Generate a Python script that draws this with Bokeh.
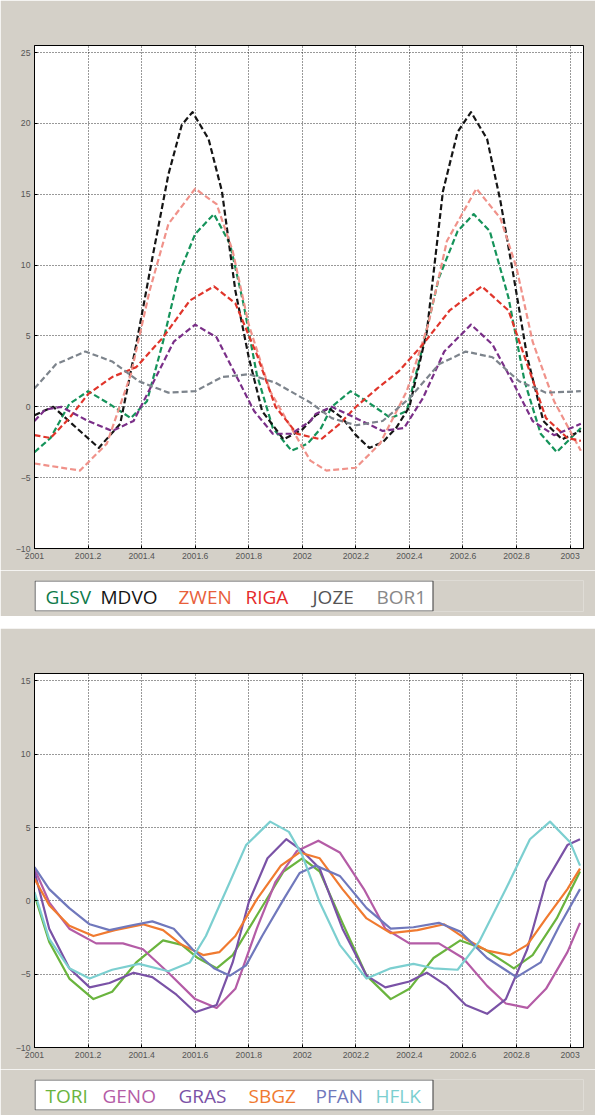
from bokeh.plotting import figure
from bokeh.layouts import column
from bokeh.models import FixedTicker, Range1d
from bokeh.core.properties import value
from bokeh.embed import file_html
from bokeh.resources import INLINE

# ---------------- top panel data (time in years, value) ----------------
top_names = ["GLSV", "MDVO", "ZWEN", "RIGA", "JOZE", "BOR1"]

MDVO_t = [2001.0, 2001.07, 2001.14, 2001.24, 2001.32, 2001.38, 2001.44, 2001.5, 2001.55, 2001.59, 2001.65,
          2001.7, 2001.75, 2001.8, 2001.85, 2001.93, 2002.0, 2002.05, 2002.1, 2002.15, 2002.2, 2002.25,
          2002.3, 2002.35, 2002.4, 2002.465, 2002.525, 2002.58, 2002.63, 2002.69, 2002.74, 2002.79,
          2002.84, 2002.9, 2002.97, 2003.04]
MDVO = [-0.6, 0.0, -1.2, -2.9, -1.2, 4.4, 10.5, 16.4, 19.9, 20.8, 18.9,
        15.2, 8.2, 3.5, -0.3, -2.3, -1.6, -0.6, -0.1, -0.8, -2.0, -2.9,
        -2.5, -1.5, 0.0, 5.3, 15.2, 19.4, 20.8, 18.9, 14.5, 9.1,
        3.5, -1.0, -2.3, -1.7]

ZWEN_t = [2001.0, 2001.17, 2001.27, 2001.36, 2001.43, 2001.5, 2001.6, 2001.68, 2001.74, 2001.8, 2001.88,
          2001.95, 2002.03, 2002.09, 2002.2, 2002.29, 2002.39, 2002.47, 2002.54, 2002.65, 2002.74,
          2002.8, 2002.86, 2002.94, 2003.04]
ZWEN = [-4.0, -4.5, -2.6, 2.3, 8.2, 12.9, 15.4, 14.3, 11.0, 5.8, 1.1,
        -1.2, -3.8, -4.5, -4.3, -2.6, 1.1, 5.8, 11.7, 15.4, 13.3,
        9.8, 4.6, 0.4, -3.1]

GLSV_t = [2001.0, 2001.06, 2001.13, 2001.2, 2001.28, 2001.36, 2001.42, 2001.48, 2001.54, 2001.6, 2001.67,
          2001.73, 2001.78, 2001.83, 2001.89, 2001.96, 2002.02, 2002.07, 2002.11, 2002.18, 2002.24,
          2002.33, 2002.39, 2002.44, 2002.51, 2002.58, 2002.64, 2002.7, 2002.77, 2002.83, 2002.89,
          2002.95, 2003.04]
GLSV = [-3.2, -2.2, 0.2, 1.1, 0.2, -0.8, 0.4, 4.6, 9.4, 12.2, 13.6,
        11.5, 7.3, 2.3, -1.5, -3.1, -2.6, -1.5, 0.0, 1.1, 0.4,
        -0.8, -0.3, 3.5, 9.1, 12.4, 13.6, 12.4, 7.7, 1.8, -1.9,
        -3.2, -1.5]

RIGA_t = [2001.0, 2001.06, 2001.13, 2001.2, 2001.29, 2001.38, 2001.48, 2001.58, 2001.67, 2001.75, 2001.83,
          2001.9, 2001.98, 2002.07, 2002.14, 2002.2, 2002.28, 2002.36, 2002.45, 2002.55, 2002.67,
          2002.77, 2002.84, 2002.91, 2002.99, 2003.04]
RIGA = [-2.0, -2.2, -0.8, 0.9, 2.1, 2.8, 4.9, 7.5, 8.5, 7.3, 3.7,
        0.0, -1.9, -2.3, -1.2, 0.0, 1.3, 2.5, 4.4, 6.8, 8.5,
        6.8, 3.0, -0.8, -2.2, -2.4]

JOZE_t = [2001.0, 2001.04, 2001.1, 2001.2, 2001.29, 2001.37, 2001.44, 2001.52, 2001.6, 2001.68, 2001.75,
          2001.82, 2001.89, 2001.96, 2002.03, 2002.05, 2002.11, 2002.2, 2002.3, 2002.38, 2002.45,
          2002.53, 2002.63, 2002.71, 2002.79, 2002.86, 2002.94, 2003.04]
JOZE = [-1.0, -0.2, 0.0, -1.0, -1.7, -1.0, 1.6, 4.6, 5.8, 4.9, 2.3,
        -0.3, -1.9, -1.9, -1.0, -0.5, 0.0, -0.8, -1.7, -1.5, 0.6,
        3.9, 5.8, 4.4, 1.6, -1.0, -2.0, -1.2]

BOR1_t = [2001.0, 2001.08, 2001.19, 2001.29, 2001.39, 2001.5, 2001.6, 2001.7, 2001.8, 2001.9, 2002.03,
          2002.11, 2002.2, 2002.3, 2002.4, 2002.51, 2002.61, 2002.71, 2002.81, 2002.91, 2003.04]
BOR1 = [1.3, 3.0, 3.9, 3.2, 1.8, 1.0, 1.1, 2.1, 2.3, 1.7, 0.3,
        -0.8, -1.3, -1.0, 0.6, 3.0, 3.9, 3.5, 1.8, 1.0, 1.1]

top_t = [GLSV_t, MDVO_t, ZWEN_t, RIGA_t, JOZE_t, BOR1_t]
top_series = [GLSV, MDVO, ZWEN, RIGA, JOZE, BOR1]
top_line_colors = ["#15935a", "#151515", "#f0928a", "#e0352b", "#7a2f88", "#7d848c"]
top_text_colors = ["#0d7a4a", "#151515", "#e8603a", "#e52a2a", "#555555", "#888888"]

# ---------------- bottom panel data ----------------
bot_names = ["TORI", "GENO", "GRAS", "SBGZ", "PFAN", "HFLK"]

HFLK_t = [2001.0, 2001.055, 2001.13, 2001.206, 2001.29, 2001.39, 2001.5, 2001.58, 2001.64, 2001.73, 2001.79,
          2001.88, 2001.95, 2002.0, 2002.065, 2002.14, 2002.24, 2002.33, 2002.415, 2002.49, 2002.58,
          2002.66, 2002.76, 2002.85, 2002.925, 2003.0, 2003.037]
HFLK = [0.6, -2.6, -4.6, -5.3, -4.7, -4.3, -4.8, -4.2, -2.4, 1.3, 3.8,
        5.4, 4.7, 3.1, -0.1, -3.0, -5.3, -4.6, -4.3, -4.6, -4.7,
        -2.8, 0.8, 4.2, 5.4, 4.0, 2.4]

TORI_t = [2001.0, 2001.055, 2001.13, 2001.22, 2001.29, 2001.38, 2001.48, 2001.55, 2001.61, 2001.68, 2001.74,
          2001.83, 2001.93, 2002.0, 2002.065, 2002.15, 2002.24, 2002.33, 2002.4, 2002.49, 2002.59,
          2002.68, 2002.79, 2002.86, 2002.95, 2003.037]
TORI = [0.4, -2.8, -5.3, -6.7, -6.2, -4.2, -2.7, -3.0, -3.9, -4.6, -3.7,
        -1.0, 2.0, 2.9, 2.0, -1.5, -5.1, -6.7, -6.0, -3.9, -2.7,
        -3.3, -4.6, -3.7, -1.2, 2.0]

GENO_t = [2001.0, 2001.055, 2001.13, 2001.23, 2001.33, 2001.405, 2001.5, 2001.6, 2001.68, 2001.75, 2001.83,
          2001.9, 2001.98, 2002.06, 2002.14, 2002.23, 2002.31, 2002.4, 2002.51, 2002.6, 2002.69,
          2002.76, 2002.84, 2002.91, 2002.99, 2003.037]
GENO = [2.2, -0.1, -1.9, -2.9, -2.9, -3.3, -4.9, -6.7, -7.3, -6.0, -1.9,
        1.3, 3.4, 4.1, 3.3, 0.8, -1.9, -2.9, -2.9, -3.9, -5.8,
        -7.0, -7.3, -6.0, -3.5, -1.5]

GRAS_t = [2001.0, 2001.055, 2001.13, 2001.206, 2001.28, 2001.37, 2001.44, 2001.53, 2001.6, 2001.68, 2001.74,
          2001.8, 2001.87, 2001.94, 2002.0, 2002.065, 2002.15, 2002.24, 2002.31, 2002.4, 2002.465,
          2002.54, 2002.61, 2002.69, 2002.76, 2002.84, 2002.91, 2002.99, 2003.037]
GRAS = [2.0, -1.9, -4.6, -5.9, -5.6, -4.9, -5.2, -6.4, -7.6, -7.1, -4.2,
        -0.1, 2.9, 4.2, 3.4, 2.2, -1.9, -5.1, -5.9, -5.5, -4.9,
        -5.8, -7.1, -7.7, -6.7, -3.3, 1.3, 3.8, 4.2]

SBGZ_t = [2001.0, 2001.055, 2001.13, 2001.22, 2001.3, 2001.405, 2001.48, 2001.55, 2001.63, 2001.69, 2001.75,
          2001.83, 2001.92, 2001.99, 2002.065, 2002.15, 2002.24, 2002.33, 2002.43, 2002.53, 2002.61,
          2002.69, 2002.775, 2002.84, 2002.91, 2002.99, 2003.037]
SBGZ = [1.5, -0.3, -1.7, -2.4, -2.0, -1.6, -2.0, -3.0, -3.7, -3.5, -2.4,
        0.1, 2.4, 3.3, 2.9, 0.8, -1.2, -2.2, -2.0, -1.6, -2.6,
        -3.4, -3.7, -3.0, -1.2, 0.8, 2.2]

PFAN_t = [2001.0, 2001.055, 2001.13, 2001.206, 2001.28, 2001.355, 2001.44, 2001.52, 2001.59, 2001.67, 2001.73,
          2001.79, 2001.85, 2001.93, 2001.99, 2002.05, 2002.14, 2002.24, 2002.33, 2002.415, 2002.51,
          2002.59, 2002.69, 2002.8, 2002.89, 2002.96, 2003.037]
PFAN = [2.3, 0.8, -0.5, -1.6, -2.0, -1.7, -1.4, -1.9, -3.3, -4.6, -5.1,
        -4.4, -2.4, 0.1, 1.9, 2.4, 1.7, -0.5, -1.9, -1.8, -1.5,
        -2.1, -3.9, -5.2, -4.2, -1.7, 0.8]

bot_t = [TORI_t, GENO_t, GRAS_t, SBGZ_t, PFAN_t, HFLK_t]
bot_series = [TORI, GENO, GRAS, SBGZ, PFAN, HFLK]
bot_colors = ["#6ab43e", "#b45ca6", "#7a52a6", "#f07a30", "#7078bc", "#7ccfd0"]

x_ticks = [2001, 2001.2, 2001.4, 2001.6, 2001.8, 2002, 2002.2, 2002.4, 2002.6, 2002.8, 2003]
GRAY = "#d4d0c8"


def panel(ts, series, colors, dash, ylo, yhi, yticks, h, top_border):
    p = figure(width=595, height=h, output_backend="svg", toolbar_location=None,
               x_range=Range1d(2001, 2003.05), y_range=Range1d(ylo, yhi),
               min_border_left=34, min_border_right=12, min_border_top=top_border,
               min_border_bottom=22)
    p.border_fill_color = GRAY
    p.background_fill_color = "white"
    p.outline_line_color = "black"
    for tt, s, c in zip(ts, series, colors):
        p.line(tt, s, line_color=c, line_width=2.2, line_dash=dash, line_join="round")
    p.xaxis.ticker = FixedTicker(ticks=x_ticks)
    p.yaxis.ticker = FixedTicker(ticks=yticks)
    for ax in (p.xaxis, p.yaxis):
        ax.major_label_text_font_size = "6.5pt"
        ax.major_label_text_color = "#555555"
        ax.axis_line_color = "black"
        ax.major_tick_line_color = "black"
        ax.major_tick_in = 3
        ax.major_tick_out = 0
        ax.minor_tick_line_color = None
        ax.major_label_standoff = 4
    p.grid.grid_line_color = "black"
    p.grid.grid_line_dash = "1 2"
    p.grid.grid_line_alpha = 0.8
    return p


def legend_fig(names, colors, xs):
    # frame spans the same width as the chart frame (549 px); box drawn as a quad
    lf = figure(width=595, height=46, output_backend="svg", toolbar_location=None,
                x_range=Range1d(0, 549), y_range=Range1d(0, 31),
                x_axis_type=None, y_axis_type=None,
                min_border_left=34, min_border_right=12, min_border_top=10,
                min_border_bottom=5)
    lf.grid.visible = False
    lf.outline_line_color = None
    lf.background_fill_color = GRAY
    lf.border_fill_color = GRAY
    lf.quad(left=[0.5], right=[398.5], bottom=[0.5], top=[30.5],
            fill_color="white", line_color="#555555", line_width=1.2)
    lf.text(x=xs, y=[15] * len(names), text=names, text_color=colors,
            text_font=value("Open Sans"), text_font_size="19px",
            text_baseline="middle", text_align="left")
    return lf


p1 = panel(top_t, top_series, top_line_colors, "6 3", -10, 25.5,
           [-10, -5, 0, 5, 10, 15, 20, 25], 570, 45)
l1 = legend_fig(top_names, top_text_colors, [11, 66, 144, 211, 278, 342])
p2 = panel(bot_t, bot_series, bot_colors, "solid", -10, 15.5,
           [-10, -5, 0, 5, 10, 15], 441, 45)
l2 = legend_fig(bot_names, bot_colors, [11, 68, 144, 214, 281, 341])

c1 = column(p1, l1, spacing=0)
c2 = column(p2, l2, spacing=0)
layout = column(c1, c2, spacing=12)

open("out.html", "w").write(file_html(layout, INLINE))
